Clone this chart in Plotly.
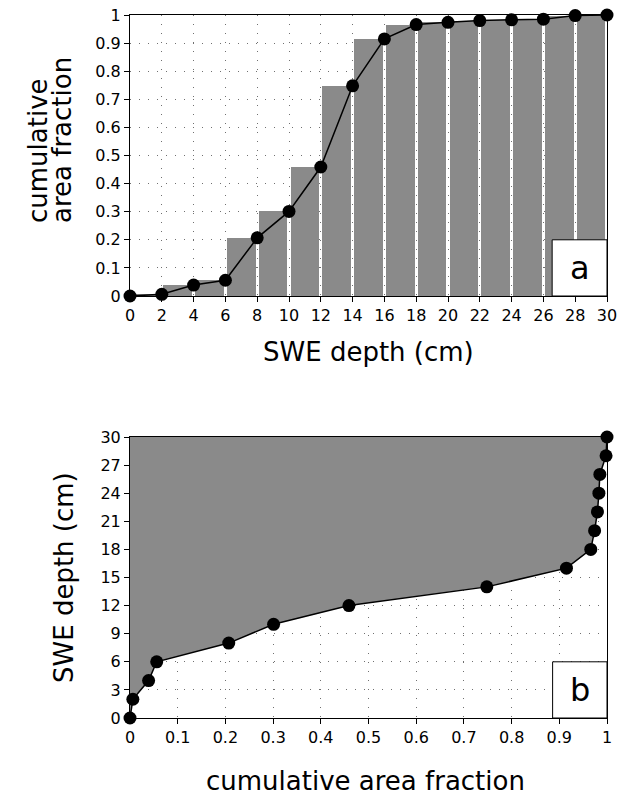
import plotly.graph_objects as go

# ---- data ----
swe_depth = [0, 2, 4, 6, 8, 10, 12, 14, 16, 18, 20, 22, 24, 26, 28, 30]
cum_frac = [0.0, 0.006, 0.039, 0.056, 0.207, 0.301, 0.459, 0.748, 0.915,
            0.966, 0.974, 0.980, 0.983, 0.985, 0.998, 1.0]
x_ticks_a = list(range(0, 31, 2))
y_ticks_a = [round(0.1 * i, 1) for i in range(11)]
x_ticks_b = [round(0.1 * i, 1) for i in range(11)]
y_ticks_b = list(range(0, 31, 3))

# bars: interval [d-2, d] centred at d-1, height = cumulative value at d
bar_x = [d - 1 for d in swe_depth[1:]]
bar_h = cum_frac[1:]

GRAY = "#8a8a8a"
FONT = "DejaVu Sans"
TSIZE = 26

# body margin is removed in the page, so layout numbers are screen pixels
W, H = 629, 801
L, R, T, B = 130, 22, 15, 83
PW = W - L - R
PH = H - T - B


def px(xs):
    return (xs - L) / PW


def py(ys):
    return 1 - (ys - T) / PH


fig = go.Figure()

# panel a
fig.add_trace(go.Bar(x=bar_x, y=bar_h, width=1.8, marker=dict(color=GRAY, line=dict(width=0)),
                     xaxis="x", yaxis="y", showlegend=False))
fig.add_trace(go.Scatter(x=swe_depth, y=cum_frac, mode="lines+markers",
                         line=dict(color="black", width=1.5),
                         marker=dict(color="black", size=13),
                         xaxis="x", yaxis="y", showlegend=False, cliponaxis=False))

# panel b: area to the left of the curve
fill_x = cum_frac + [0.0]
fill_y = swe_depth + [swe_depth[-1]]
fig.add_trace(go.Scatter(x=fill_x, y=fill_y, mode="lines", fill="toself",
                         fillcolor=GRAY, line=dict(width=0),
                         xaxis="x2", yaxis="y2", showlegend=False))
fig.add_trace(go.Scatter(x=cum_frac, y=swe_depth, mode="lines+markers",
                         line=dict(color="black", width=1.5),
                         marker=dict(color="black", size=13),
                         xaxis="x2", yaxis="y2", showlegend=False, cliponaxis=False))

axis_common = dict(showline=True, linecolor="black", linewidth=1, mirror=True,
                   ticks="outside", ticklen=5, tickcolor="black", automargin=False,
                   ticklabeloverflow="allow",
                   showgrid=True, gridcolor="#707070", griddash="1px,8px", gridwidth=1,
                   zeroline=False, tickfont=dict(family=FONT, size=16, color="black"))

top_bottom = py(296)
bot_top = py(437)


def title(text, x, y, angle=0):
    return dict(text=text, xref="paper", yref="paper", x=px(x), y=py(y),
                showarrow=False, textangle=angle, xanchor="center", yanchor="middle",
                font=dict(family=FONT, size=TSIZE, color="black"))


fig.update_layout(
    width=W, height=H,
    margin=dict(l=L, r=R, t=T, b=B, autoexpand=False),
    paper_bgcolor="white", plot_bgcolor="white",
    bargap=0,
    hovermode=False,
    xaxis=dict(domain=[0, 1], range=[0, 30], tickvals=x_ticks_a, anchor="y", **axis_common),
    yaxis=dict(domain=[top_bottom, 1.0], range=[0, 1], tickvals=y_ticks_a, anchor="x", **axis_common),
    xaxis2=dict(domain=[0, 1], range=[0, 1], tickvals=x_ticks_b, anchor="y2", **axis_common),
    yaxis2=dict(domain=[0, bot_top], range=[0, 30], tickvals=y_ticks_b, anchor="x2", **axis_common),
    shapes=[
        dict(type="rect", xref="x", yref="y", x0=26.55, x1=30, y0=0, y1=0.2,
             fillcolor="white", line=dict(color="black", width=1), layer="above"),
        dict(type="rect", xref="x2", yref="y2", x0=0.886, x1=1, y0=0, y1=6,
             fillcolor="white", line=dict(color="black", width=1), layer="above"),
    ],
    annotations=[
        dict(text="a", xref="x", yref="y", x=28.3, y=0.1, showarrow=False,
             xanchor="center", yanchor="middle",
             font=dict(family=FONT, size=32, color="black")),
        dict(text="b", xref="x2", yref="y2", x=0.943, y=3, showarrow=False,
             xanchor="center", yanchor="middle",
             font=dict(family=FONT, size=32, color="black")),
        title("SWE depth (cm)", 368, 352),
        title("cumulative", 38, 151, -90),
        title("area fraction", 62, 140, -90),
        title("cumulative area fraction", 365, 781),
        title("SWE depth (cm)", 64, 578, -90),
    ],
)

fig.write_html("out.html",
               config={"displayModeBar": False},
               post_script="document.body.style.margin='0';document.body.style.overflow='hidden';")
